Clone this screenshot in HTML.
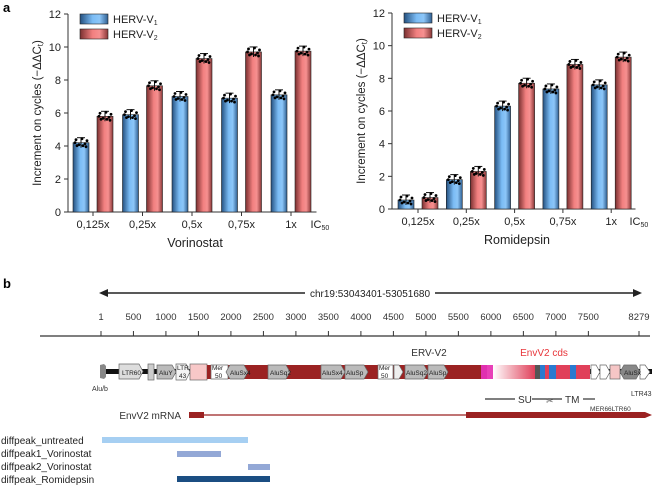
<!DOCTYPE html>
<html><head><meta charset="utf-8"><style>
body{margin:0;background:#fff;}
svg{display:block;font-family:"Liberation Sans",sans-serif;}
</style></head><body>
<svg id="fig" width="656" height="485" viewBox="0 0 656 485">
<defs>
<linearGradient id="gb" x1="0" x2="1" y1="0" y2="0"><stop offset="0" stop-color="#24507f"/><stop offset="0.45" stop-color="#7bbcf5"/><stop offset="0.7" stop-color="#8cc6f8"/><stop offset="1" stop-color="#2f5f92"/></linearGradient>
<linearGradient id="gr" x1="0" x2="1" y1="0" y2="0"><stop offset="0" stop-color="#7a3030"/><stop offset="0.45" stop-color="#f28080"/><stop offset="0.7" stop-color="#f69090"/><stop offset="1" stop-color="#8a3838"/></linearGradient>
<linearGradient id="gp" x1="0" x2="1"><stop offset="0" stop-color="#fff"/><stop offset="1" stop-color="#e0405a"/></linearGradient>
</defs>
<text x="3" y="12" font-size="13" font-weight="bold">a</text>
<text x="3" y="288" font-size="13" font-weight="bold">b</text>
<g id="chartL"></g>
<g id="chartR"></g>
<g id="panelb">
<line x1="103" y1="293" x2="638" y2="293" stroke="#222" stroke-width="1.5"/>
<polygon points="99,293 108,289 108,297" fill="#222"/><polygon points="642,293 633,289 633,297" fill="#222"/>
<rect x="305" y="286" width="130" height="14" fill="#fff"/>
<text x="370" y="297" font-size="10" text-anchor="middle" fill="#222">chr19:53043401-53051680</text>
<line x1="40" y1="336" x2="650" y2="336" stroke="#333" stroke-width="1.2"/>
<g id="ruler"></g>
<text x="429" y="356" font-size="10" text-anchor="middle" fill="#333">ERV-V2</text>
<text x="544" y="356" font-size="10" text-anchor="middle" fill="#e8353a">EnvV2 cds</text>
<rect x="100" y="369" width="552" height="5" fill="#111"/>
<polygon points="100,365 104,364 106,366 106,377 104,379 100,378" fill="#888"/>
<text x="92" y="391" font-size="7" fill="#333">Alu/b</text>
<g stroke="#666" stroke-width="0.7" font-size="7" fill="#333">
<polygon points="119,364 139,364 143,371.5 139,379 119,379" fill="#ddd"/>
<rect x="148" y="364" width="6" height="16" fill="#ccc"/>
<polygon points="157,365 172,365 176,372 172,379 157,379" fill="#bbb"/>
<polygon points="176,364 186,364 190,372 186,380 176,380" fill="#f4f4f4"/>
<rect x="190" y="364" width="17" height="16" fill="#f8c8c8"/>
<rect x="207" y="365" width="274" height="14" fill="#9b2222" stroke="none"/>
<polygon points="211,365 228,365 228,379 211,379" fill="#fff"/>
<polygon points="230,365 244,365 248,372 244,379 230,379 226,372" fill="#bbb"/>
<polygon points="268,365 286,365 290,372 286,379 268,379" fill="#bbb"/>
<polygon points="321,365 341,365 345,372 341,379 321,379" fill="#bbb"/>
<polygon points="345,365 364,365 368,372 364,379 345,379" fill="#bbb"/>
<rect x="378" y="365" width="15" height="14" fill="#fff"/>
<polygon points="394,365 399,365 403,372 399,379 394,379" fill="#eee"/>
<polygon points="405,365 424,365 428,372 424,379 405,379" fill="#bbb"/>
<polygon points="428,365 444,365 448,372 444,379 428,379" fill="#bbb"/>
<rect x="481" y="365" width="6" height="14" fill="#e030b0" stroke="none"/>
<rect x="487" y="365" width="6" height="14" fill="#e840b8" stroke="none"/>
<rect x="493" y="365" width="42" height="14" fill="url(#gp)" stroke="none"/>
<rect x="535" y="365" width="5" height="14" fill="#555" stroke="none"/>
<rect x="540" y="365" width="5" height="14" fill="#2a7ad0" stroke="none"/>
<rect x="545" y="365" width="4" height="14" fill="#e0405a" stroke="none"/>
<rect x="549" y="365" width="7" height="14" fill="#2a7ad0" stroke="none"/>
<rect x="556" y="365" width="14" height="14" fill="#e0405a" stroke="none"/>
<rect x="570" y="365" width="6" height="14" fill="#2a7ad0" stroke="none"/>
<rect x="576" y="365" width="14" height="14" fill="#e0405a" stroke="none"/>
<polygon points="591,365 596,365 600,372 596,379 591,379" fill="#fff"/>
<polygon points="600,365 606,365 610,372 606,379 600,379" fill="#fff"/>
<rect x="610" y="365" width="10" height="14" fill="#f6c6c6"/>
<polygon points="624,365 636,365 640,372 636,379 624,379 620,372" fill="#888"/>
<polygon points="640,365 645,365 650,372 645,379 640,379" fill="#fff"/>
</g>
<g font-size="6.5" fill="#222">
<text x="122" y="375">LTR60</text><text x="159" y="375">AluY</text><text x="177" y="370">LTR</text><text x="179" y="378">43</text>
<text x="212" y="370">Mer</text><text x="215" y="378">50</text><text x="230" y="375">AluSx4</text><text x="270" y="375">AluSq2</text>
<text x="322" y="375">AluSx4</text><text x="346" y="375">AluSp</text><text x="379" y="370">Mer</text><text x="381" y="378">50</text>
<text x="406" y="375">AluSq2</text><text x="429" y="375">AluSp</text><text x="624" y="375">AluSx</text>
</g>
<text x="631" y="396" font-size="7" fill="#333">LTR43</text>
<g stroke="#333" stroke-width="1.2"><line x1="485" y1="399" x2="515" y2="399"/><line x1="532" y1="399" x2="562" y2="399"/><line x1="583" y1="399" x2="595" y2="399"/></g>
<text x="518" y="403" font-size="10" fill="#333">SU</text><text x="565" y="403" font-size="10" fill="#333">TM</text>
<text x="546" y="404" font-size="9" fill="#666">✂</text>
<text x="590" y="411" font-size="6.5" fill="#333">MER66LTR60</text>
<text x="181" y="419" font-size="10" text-anchor="end" fill="#333">EnvV2 mRNA</text>
<rect x="189" y="412" width="15" height="6" fill="#9b2222"/>
<line x1="204" y1="415" x2="466" y2="415" stroke="#9b2222" stroke-width="1.2"/>
<polygon points="466,412 645,412 652,415 645,418 466,418" fill="#9b2222"/>
<g font-size="10" fill="#222">
<text x="1" y="444">diffpeak_untreated</text><text x="1" y="457">diffpeak1_Vorinostat</text>
<text x="1" y="470">diffpeak2_Vorinostat</text><text x="1" y="483">diffpeak_Romidepsin</text>
</g>
<rect x="102" y="437" width="146" height="6" fill="#a6cff2"/>
<rect x="177" y="451" width="44" height="6" fill="#93a8d6"/>
<rect x="248" y="464" width="22" height="6" fill="#93a8d6"/>
<rect x="177" y="476" width="93" height="6" fill="#1b4e82"/>
</g>
</svg>
<script>
const categories=["0,125x","0,25x","0,5x","0,75x","1x"];
const yTicks=[0,2,4,6,8,10,12];
const vorV1=[4.2,5.9,7.0,6.9,7.1];
const vorV2=[5.8,7.65,9.3,9.7,9.75];
const romV1=[0.55,1.8,6.3,7.35,7.6];
const romV2=[0.7,2.3,7.7,8.85,9.3];
const rulerTicks=[1,500,1000,1500,2000,2500,3000,3500,4000,4500,5000,5500,6000,6500,7000,7500,8279];
const NS="http://www.w3.org/2000/svg";
function mk(p,t,a,txt){const e=document.createElementNS(NS,t);for(const k in a)e.setAttribute(k,a[k]);if(txt!==undefined)e.textContent=txt;p.appendChild(e);return e;}
function chart(g,ax,x0,pitch,y0,y12,v1,v2,xt,xtc){
  const y=v=>y0-(y0-y12)*v/12;
  const line=mk(g,'line',{x1:ax,y1:y12,x2:ax,y2:y0,stroke:'#333','stroke-width':1});
  
  
  const xl=mk(g,'line',{x1:ax,y1:y0,x2:x0+pitch*5-4,y2:y0,stroke:'#333','stroke-width':1});
  
  
  yTicks.forEach(t=>{mk(g,'line',{x1:ax-4,x2:ax,y1:y(t),y2:y(t),stroke:'#333'});
    const tx=mk(g,'text',{x:ax-7,y:y(t)+4,'font-size':11,'text-anchor':'end',fill:'#222'},t);
    
    });
  const yt=mk(g,'text',{transform:`translate(${ax-27},${(y0+y12)/2}) rotate(-90)`,'font-size':11.5,'text-anchor':'middle',fill:'#222'},'Increment on cycles (−ΔΔC');
  
  
  mk(yt,'tspan',{'font-size':8,dy:2},'t');mk(yt,'tspan',{dy:-2},')');
  const bw=16;
  categories.forEach((c,i)=>{
    const bx=x0+i*pitch;
    [[v1[i],'url(#gb)',bx,'bar-v1'],[v2[i],'url(#gr)',bx+bw+8,'bar-v2']].forEach(([v,f,x,n],k)=>{
      const r=mk(g,'rect',{x:x,y:y(v),width:bw,height:y0-y(v),fill:f,stroke:'#222','stroke-width':0.6});
      
      
      const e=5;
      mk(g,'line',{x1:x+bw/2,x2:x+bw/2,y1:y(v)-e,y2:y(v)+e,stroke:'#111'});
      mk(g,'line',{x1:x+4,x2:x+bw-4,y1:y(v)-e,y2:y(v)-e,stroke:'#111'});
      const offs=[[-5,-3],[-2,2],[1,-4],[4,1],[6,-2],[-4,3],[2,3],[-6,0],[5,4]];
      offs.forEach(o=>mk(g,'circle',{cx:x+bw/2+o[0],cy:y(v)+o[1],r:1.4,fill:'#000'}));
    });
    mk(g,'line',{x1:bx+bw+4,x2:bx+bw+4,y1:y0,y2:y0+4,stroke:'#333'});
    const l=mk(g,'text',{x:bx+bw+4,y:y0+16,'font-size':11,'text-anchor':'middle',fill:'#222'},c);
    
    
  });
  const ic=mk(g,'text',{x:x0+pitch*5-10,y:y0+16,'font-size':11,fill:'#222'},'IC');
  mk(ic,'tspan',{'font-size':7,dy:2},'50');
  const xtt=mk(g,'text',{x:xtc,y:y0+35,'font-size':12.5,'text-anchor':'middle',fill:'#222'},xt);
  
  
  [['url(#gb)','1'],['url(#gr)','2']].forEach(([f,s],k)=>{
    const lx=ax+12,ly=y12+k*15;
    const lr=mk(g,'rect',{x:lx,y:ly,width:28,height:10,fill:f,stroke:'#222','stroke-width':0.6});
    
    
    const lt=mk(g,'text',{x:lx+33,y:ly+9,'font-size':11,fill:'#222'},'HERV-V');
    
    
    mk(lt,'tspan',{'font-size':7,dy:2},s);
  });
}
chart(document.getElementById('chartL'),68,73,49.5,212,14,vorV1,vorV2,'Vorinostat',195);
chart(document.getElementById('chartR'),392,398,48.3,209,13,romV1,romV2,'Romidepsin',517);
const rg=document.getElementById('ruler');
const rx=p=>101+(p-1)*(639-101)/8278;
rulerTicks.forEach(p=>{
  mk(rg,'line',{x1:rx(p),x2:rx(p),y1:331,y2:336,stroke:'#333'});
  const t=mk(rg,'text',{x:rx(p),y:320,'font-size':9.5,'text-anchor':'middle',fill:'#333'},p);
  
  
});
</script>
</body></html>
